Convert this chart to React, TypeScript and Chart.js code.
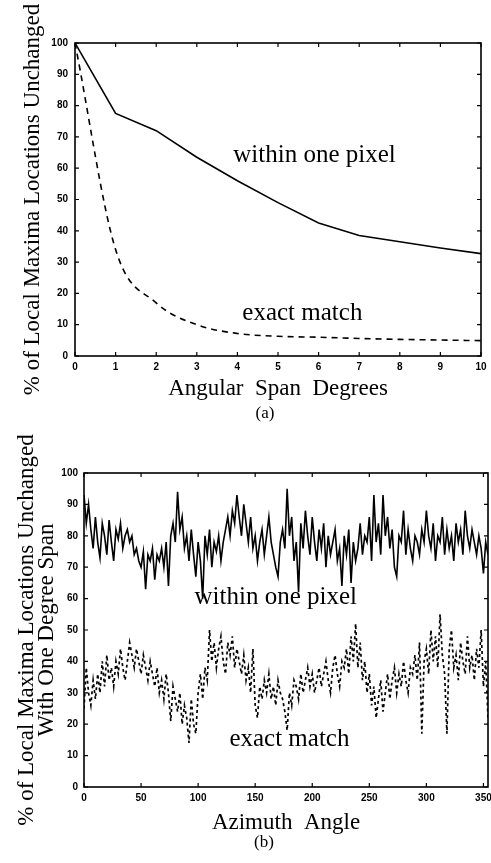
import React, { useEffect, useRef } from "react";
import { Chart, registerables } from "chart.js";

Chart.register(...registerables);

// ---------- Panel (a) data ----------
const spanDegrees = [0, 1, 2, 3, 4, 5, 6, 7, 8, 9, 10];
const withinOnePixelA = [100, 77.5, 72, 63.5, 56, 49, 42.5, 38.5, 36.5, 34.5, 32.7];
const exactMatchA = [100, 34, 17, 10, 7.2, 6.3, 6, 5.6, 5.3, 5.1, 4.9];

// ---------- Panel (b) data (every 2 degrees of azimuth) ----------
const withinOnePixelB = [
  93, 84, 90, 82, 76, 86, 78, 73, 84, 80,
  74, 85, 78, 72, 82, 79, 84, 76, 80, 82,
  78, 80, 74, 76, 72, 70, 75, 63, 74, 72,
  76, 66, 74, 72, 76, 70, 78, 64, 80, 84,
  78, 94, 82, 86, 76, 80, 72, 82, 74, 67,
  78, 72, 60, 80, 74, 82, 70, 78, 75, 80,
  72, 78, 82, 86, 80, 88, 84, 93, 86, 80,
  90, 84, 78, 86, 76, 80, 72, 78, 82, 74,
  80, 86, 78, 74, 70, 67, 78, 82, 76, 95,
  80, 86, 72, 78, 62, 84, 76, 88, 80, 74,
  86, 78, 72, 82, 76, 84, 70, 80, 74, 78,
  82, 72, 76, 64, 80, 74, 82, 65, 78, 72,
  76, 84, 74, 80, 78, 86, 72, 93, 78, 84,
  74, 93, 80, 86, 76, 82, 70, 67, 80, 78,
  88, 74, 82, 76, 72, 80, 78, 74, 82, 78,
  88, 80, 76, 84, 72, 80, 78, 86, 74, 82,
  76, 80, 72, 84, 78, 82, 74, 88, 80, 76,
  82, 78, 74, 80, 76, 68, 78, 74,
];
const exactMatchB = [
  25, 38, 30, 26, 34, 28, 36, 30, 40, 32,
  42, 34, 38, 32, 40, 36, 44, 38, 34, 40,
  46, 42, 38, 44, 40, 36, 42, 38, 34, 40,
  36, 32, 38, 30, 34, 28, 36, 30, 21, 32,
  28, 24, 30, 20, 26, 22, 14, 28, 20, 17,
  30, 36, 28, 38, 34, 50, 40, 46, 38, 44,
  48, 40, 36, 46, 42, 48, 38, 44, 40, 36,
  42, 34, 38, 30, 44, 26, 22, 32, 28, 34,
  30, 36, 28, 32, 26, 34, 30, 28, 24, 18,
  30, 26, 34, 32, 28, 36, 30, 34, 38, 32,
  36, 30, 34, 38, 32, 36, 40, 34, 30, 38,
  42, 36, 32, 40, 38, 44, 36, 48, 40, 52,
  38, 46, 34, 40, 30, 36, 26, 32, 22, 28,
  34, 24, 30, 36, 28, 34, 38, 30, 36, 32,
  40, 34, 30, 38, 36, 42, 34, 46, 17, 40,
  44, 36, 50, 40, 48, 38, 55, 42, 36, 17,
  44, 50, 38, 42, 34, 46, 40, 36, 48, 38,
  42, 34, 44, 38, 50, 32, 40, 22,
];
const azimuthAngles = withinOnePixelB.map((_, i) => i * 2);

const yTicksLabel = "% of Local Maxima Locations Unchanged";

const serif = "'Liberation Serif', 'Times New Roman', serif";
const sans = "'Liberation Sans', Arial, sans-serif";

// Draws the boxed frame, inward tick marks and in-plot text notes
const frameAndNotes = {
  id: "frameAndNotes",
  afterDatasetsDraw(chart: any, _args: any, opts: any) {
    const { ctx, chartArea: a, scales } = chart;
    const xs = scales.x;
    const ys = scales.y;
    ctx.save();
    ctx.strokeStyle = "#000";
    ctx.lineWidth = 1.6;
    ctx.strokeRect(a.left, a.top, a.right - a.left, a.bottom - a.top);
    ctx.lineWidth = 1.2;
    const L = 4;
    ctx.beginPath();
    xs.ticks.forEach((_t: any, i: number) => {
      const px = xs.getPixelForTick(i);
      ctx.moveTo(px, a.bottom);
      ctx.lineTo(px, a.bottom - L);
      ctx.moveTo(px, a.top);
      ctx.lineTo(px, a.top + L);
    });
    ys.ticks.forEach((_t: any, i: number) => {
      const py = ys.getPixelForTick(i);
      ctx.moveTo(a.left, py);
      ctx.lineTo(a.left + L, py);
      ctx.moveTo(a.right, py);
      ctx.lineTo(a.right - L, py);
    });
    ctx.stroke();
    ctx.fillStyle = "#000";
    ctx.font = `25px ${serif}`;
    ctx.textAlign = "center";
    ctx.textBaseline = "middle";
    (opts.notes || []).forEach((n: any) => {
      ctx.fillText(n.text, xs.getPixelForValue(n.x), ys.getPixelForValue(n.y));
    });
    ctx.restore();
  },
};

function buildConfig(p: any) {
  return {
    type: "line",
    data: {
      datasets: p.series.map((s: any) => ({
        data: p.xs.map((x: number, i: number) => ({ x, y: s.values[i] })),
        borderColor: "#000",
        borderWidth: s.width,
        borderDash: s.dash,
        pointRadius: 0,
        fill: false,
        tension: 0,
        cubicInterpolationMode: s.smooth ? "monotone" : "default",
      })),
    },
    options: {
      responsive: false,
      animation: false,
      events: [],
      layout: { padding: { left: 0, top: 43, right: p.padRight, bottom: 0 } },
      plugins: {
        legend: { display: false },
        tooltip: { enabled: false },
        frameAndNotes: { notes: p.notes },
      },
      scales: {
        x: {
          type: "linear",
          min: p.xMin,
          max: p.xMax,
          grid: { display: false, drawTicks: false },
          border: { display: false },
          ticks: {
            stepSize: p.xStep,
            includeBounds: false,
            maxRotation: 0,
            autoSkip: false,
            padding: 5,
            color: "#000",
            font: { family: sans, size: 10, weight: "bold" },
          },
          title: {
            display: true,
            text: p.xTitle,
            color: "#000",
            padding: { top: 0, bottom: p.xTitlePad },
            font: { family: serif, size: 23, lineHeight: 1.2 },
          },
          afterFit: (s: any) => {
            s.height = p.xHeight;
            s.paddingLeft = 0;
            s.paddingRight = 0;
          },
        },
        y: {
          min: 0,
          max: 100,
          grid: { display: false, drawTicks: false },
          border: { display: false },
          ticks: {
            stepSize: 10,
            padding: p.yTickPad,
            color: "#000",
            font: { family: sans, size: 10, weight: "bold" },
          },
          title: {
            display: true,
            text: p.yTitle,
            color: "#000",
            padding: { top: p.yTitlePad, bottom: 0 },
            font: { family: serif, size: 23, lineHeight: p.yLineHeight },
          },
          afterFit: (s: any) => {
            s.width = p.yWidth;
            s.paddingTop = 0;
            s.paddingBottom = 0;
          },
        },
      },
    },
    plugins: [frameAndNotes],
  };
}

function ChartCanvas({ config, height }: { config: any; height: number }) {
  const ref = useRef<HTMLCanvasElement | null>(null);
  useEffect(() => {
    if (!ref.current) return;
    const chart = new Chart(ref.current, config);
    return () => chart.destroy();
  }, [config]);
  return <canvas ref={ref} width={491} height={height} style={{ display: "block", width: 491, height }} />;
}

const configA = buildConfig({
  xs: spanDegrees,
  series: [
    { values: withinOnePixelA, width: 1.6, dash: [], smooth: false },
    { values: exactMatchA, width: 1.6, dash: [6, 5], smooth: true },
  ],
  xMin: 0,
  xMax: 10,
  xStep: 1,
  xTitle: "Angular  Span  Degrees",
  xTitlePad: 27,
  xHeight: 74,
  yTitle: yTicksLabel,
  yTitlePad: 19,
  yLineHeight: 1.2,
  yWidth: 75,
  yTickPad: 7,
  padRight: 10,
  notes: [
    { text: "within one pixel", x: 5.9, y: 64 },
    { text: "exact match", x: 5.6, y: 13.7 },
  ],
});

const configB = buildConfig({
  xs: azimuthAngles,
  series: [
    { values: withinOnePixelB, width: 1.6, dash: [], smooth: false },
    { values: exactMatchB, width: 1.7, dash: [3, 3], smooth: false },
  ],
  xMin: 0,
  xMax: 354,
  xStep: 50,
  xTitle: "Azimuth  Angle",
  xTitlePad: 26,
  xHeight: 76,
  yTitle: [yTicksLabel, "With One Degree Span"],
  yTitlePad: 17,
  yLineHeight: 0.88,
  yWidth: 84,
  yTickPad: 6,
  padRight: 3,
  notes: [
    { text: "within one pixel", x: 168, y: 60.5 },
    { text: "exact match", x: 180, y: 15.3 },
  ],
});

export default function App() {
  const capStyle: React.CSSProperties = {
    position: "absolute",
    transform: "translate(-50%, -50%)",
    fontFamily: serif,
    fontSize: 17,
    color: "#000",
    whiteSpace: "nowrap",
  };
  return (
    <div style={{ position: "absolute", left: 0, top: 0, width: 491, height: 863, background: "#fff", overflow: "hidden" }}>
      <div style={{ position: "absolute", left: 0, top: 0 }}>
        <ChartCanvas config={configA} height={430} />
      </div>
      <div style={{ position: "absolute", left: 0, top: 430 }}>
        <ChartCanvas config={configB} height={433} />
      </div>
      <div style={{ ...capStyle, left: 265, top: 413 }}>(a)</div>
      <div style={{ ...capStyle, left: 264, top: 842 }}>(b)</div>
    </div>
  );
}
